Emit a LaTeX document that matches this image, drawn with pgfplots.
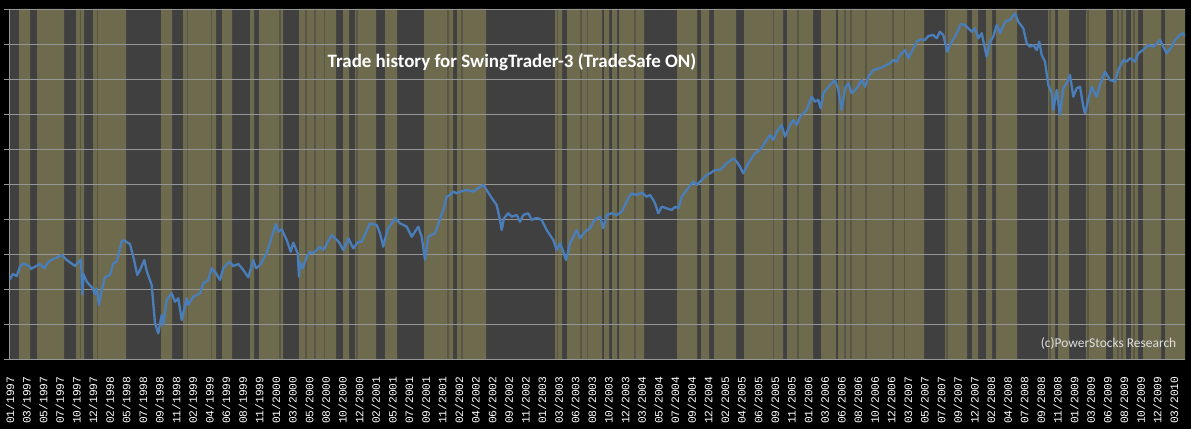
\documentclass[border=0pt]{standalone}
\usepackage{pgfplots}
\pgfplotsset{compat=1.18}
\usepackage{fontspec}
\setmainfont{Carlito}
\newfontfamily\monofont{Liberation Mono}
\definecolor{olivebg}{RGB}{110,106,78}
\definecolor{darkbg}{RGB}{64,64,64}
\definecolor{stripe}{RGB}{88,86,70}
\definecolor{gridc}{RGB}{150,150,150}
\definecolor{lineblue}{RGB}{74,126,187}
\pgfdeclarelayer{pagebg}
\pgfplotsset{
  layers/mylayers/.define layer set={pagebg,axis background,axis grid,axis ticks,axis lines,axis tick labels,pre main,main,axis descriptions,axis foreground}{/pgfplots/layers/standard},
}
\begin{document}
\begin{tikzpicture}
\begin{axis}[
  set layers=mylayers,
  at={(9.3bp,69bp)}, anchor=south west,
  scale only axis, width=1175.7bp, height=350.7bp,
  xmin=9.3, xmax=1185, ymin=0, ymax=350.7,
  axis background/.style={fill=darkbg},
  axis lines*=left,
  axis line style={-, draw=gridc, line width=1bp},
  ytick={0,35.07,70.14,105.21,140.28,175.35,210.42,245.49,280.56,315.63,350.7},
  yticklabels={},
  ymajorgrids=true,
  major grid style={draw=gridc, line width=1bp},
  tick align=outside,
  major tick length=5.5bp,
  ytick style={draw=gridc, line width=1bp},
  xtick style={draw=none},
  xtick={10,26.63,...,1175},
  xticklabels={01/1997,03/1997,05/1997,07/1997,10/1997,12/1997,02/1998,05/1998,07/1998,09/1998,11/1998,02/1999,04/1999,06/1999,08/1999,11/1999,01/2000,03/2000,05/2000,08/2000,10/2000,12/2000,02/2001,05/2001,07/2001,09/2001,11/2001,02/2002,04/2002,06/2002,09/2002,11/2002,01/2003,03/2003,06/2003,08/2003,10/2003,12/2003,03/2004,05/2004,07/2004,09/2004,12/2004,02/2005,04/2005,06/2005,09/2005,11/2005,01/2006,03/2006,06/2006,08/2006,10/2006,12/2006,03/2007,05/2007,07/2007,09/2007,12/2007,02/2008,04/2008,07/2008,09/2008,11/2008,01/2009,03/2009,06/2009,08/2009,10/2009,12/2009,03/2010},
  xticklabel style={yshift=-11bp, rotate=90, anchor=east, inner sep=0pt,
    font=\monofont\fontsize{11.3}{11.3}\selectfont, text=white},
]
% olive (in-market) bands: 351 = olive from this x, 0 = dark from this x
\addplot[const plot, fill=olivebg, draw=none, on layer=axis background] coordinates {
(9.3,0)(19,351)(30,0)(37,351)(64,0)(76,351)(84,0)(93,351)(126,0)(161,351)
(172,0)(183,351)(216,0)(222,351)(232,0)(250,351)(254,0)(259,351)(283,0)(299,351)
(336,0)(343,351)(349,0)(355,351)(376,0)(385,351)(397,0)(424,351)(453,0)(457,351)
(486,0)(555,351)(562,0)(567,351)(602,0)(604,351)(609,0)(612,351)(617,0)(619,351)
(644,0)(677,351)(697,0)(701,351)(709,0)(714,351)(736,0)(744,351)(783,0)(787,351)
(813,0)(821,351)(836,0)(838,351)(924,0)(945,351)(967,0)(972,351)(978,0)(986,351)
(992,0)(996,351)(1017,0)(1048,351)(1055,0)(1058,351)(1069,0)(1086,351)(1106,0)(1113,351)
(1126,0)(1131,351)(1138,0)(1143,351)(1161,0)(1165,351)(1185,351)} \closedcycle;
% thin darker stripes
\addplot[ycomb, draw=stripe, line width=1.6bp, no markers, on layer=axis background] coordinates {
(80.5,351)(97.5,351)(187.5,351)(211.5,351)(280,351)(306,351)(315,351)(324.5,351)(357,351)
(448,351)(462,351)(557.5,351)(581,351)(587.5,351)(635,351)(773.5,351)(798,351)(845,351)
(851,351)(866,351)(893,351)(904.5,351)(947,351)(1050,351)(1088,351)(1118,351)(1122,351)(1134,351)};
% equity curve (y read as pixel rows, stored top-down)
\addplot[draw=lineblue, line width=2.3bp, line join=round, no markers] table[x=x, y expr=360-\thisrow{py}] {
x py
10 279.3
12.7 274
16.7 276
20 266.7
23.3 263.3
30 266.7
31 269
35 266.7
40 264
44.3 268.3
48.3 261.7
55 258.3
61.7 255
66.7 260
75 266
81 259.3
82.3 294.3
83.3 274
86.7 281.7
92.7 288.3
95 294.3
96.7 288.3
99 305
101.7 290
105 277.3
110 275
113.3 263.3
116.7 261.7
121.7 241.7
123.3 240
130 244
133.3 256.7
137.3 275
140 270
144.3 260
146.7 271
151.7 285
155 323.3
158.3 333.3
161.7 315
163.3 325
166.7 300
171.7 293.3
175 301.7
178.3 298.3
181.7 320
186.7 298.3
188.3 305
193.3 296.7
200 293.3
203.3 283.3
208.3 280
211.7 268.3
215 271.7
220 280
223.3 268.3
229.3 261.7
233.3 266
238.3 264
243.3 270
248.3 277.3
253.3 260
256 268.3
260 265
266.7 253.3
271.7 236.7
276 224
278.3 231.7
281.7 229.3
286.7 240
290.7 251.7
293.3 242.7
297.7 253.3
299 276.7
300 262
302.7 268.3
306.7 256.7
310 251.7
313.3 253.3
320 246.7
323.3 250
331.7 235
336.7 240
339.3 242.7
343.3 250
348.3 238.3
353.3 248.3
358.3 241.7
361.7 241.7
370 223.3
376.7 225
380 233.3
383.3 246.7
387.3 230
395 218.3
400 223.3
406.7 226.7
411.7 236.7
418.3 226.7
421.7 236.7
425 260
428.3 236.7
435 233.3
443.3 210
446.7 196.7
450 195
453.3 191.7
456.7 193.3
460 191.7
466.7 190
473.3 191.7
480 186.7
483.3 185
486.7 190
491.7 198
496.7 205
500 220
501.7 230
504 218.3
508.3 213.3
511.7 216.7
516.7 215
520 221.7
523.3 215
528.3 213.3
531.7 220
535 218.3
538.3 218.3
541.7 220
543.3 223.3
546.7 230
553.3 240
556.7 250
560 243.3
563.3 251.7
566 260
570 243.3
576.7 230
580 238.3
585 231.7
590 228.3
593.3 221.7
596.7 218.3
600 216.7
603.3 228.3
606.7 215
611.7 213.3
616.7 215
621.7 211.7
625 205
628.3 198
631.7 193.3
636.7 195
641.7 192.7
646.7 196.7
650 195
653.3 200
655 203.3
658.3 213.3
661.7 206.7
666.7 208.3
671.7 210
675 206.7
678.3 208.3
680 203.3
681.7 196.7
686.7 190
693.3 181.7
696.7 185
700 181.7
706.7 175
710 173.3
715 170
720 170
726.7 163.3
733.3 158.3
736.7 161.7
740 166.7
743.3 173.3
748.3 163.3
755 153.3
760 150
766.7 140
770 135
773.3 140
776.7 131.7
781.7 125
785 136.7
790 125
793.3 120
796.7 125
800 116.7
806.7 110
811.7 96.7
815 101.7
818.3 100
820.7 108.3
823.3 93.3
830 85
835 80
838.3 90
841.7 110
845 88.3
848.3 83.3
851.7 93.3
856.7 88.3
861.7 80
865 86.7
868.3 76.7
873.3 70
880 68.3
886.7 65
890 63.3
893.3 60
896.7 61.7
900 55
905 50
908.3 58.3
911.7 51.7
916.7 41.7
920 39.3
925 40
928.3 36
933.3 35
936.7 38.3
940 31.7
943.3 35
947.3 51.7
950 45
956.7 33.3
960.7 24
965 25
968.3 28.3
971.7 31.7
975 28.3
978.3 38.3
981.7 33.3
986.7 56.7
990 41.7
993.3 36.7
996.7 25
1000 33.3
1005 21.7
1010 20
1015 13.3
1018.3 21.7
1023.3 28.3
1026.7 43.3
1030 46.7
1033.3 45
1036.7 50
1039.3 41.7
1041.7 55
1045 61.7
1048.3 85
1051.7 93.3
1053.3 110
1056.7 90
1060 115
1063.3 88.3
1066.7 83.3
1070 75
1073.3 96.7
1076.7 88.3
1080 86.7
1083.3 106.7
1085 113.3
1088.3 100
1091.7 86.7
1096.7 96.7
1100 85
1105 71.7
1110 80
1115 81.7
1118.3 70
1123.3 60
1126.7 61.7
1130 58.3
1135 61.7
1138.3 53.3
1143.3 50
1148.3 45
1153.3 46.7
1160 40
1163.3 46.7
1166.7 53.3
1171.7 46.7
1175 40
1180 35
1183.3 33.3
1185 36.7
};
\end{axis}
\begin{pgfonlayer}{pagebg}
\fill[black] (0,0) rectangle (1191bp,429bp);
\end{pgfonlayer}
\node[font=\bfseries\fontsize{19}{19}\selectfont, text=white] at (512bp,367.3bp) {Trade history for SwingTrader-3 (TradeSafe ON)};
\node[font=\fontsize{13.5}{13.5}\selectfont, text=black!12] at (1108.5bp,85bp) {(c)PowerStocks Research};
\pgfresetboundingbox
\useasboundingbox (0,0) rectangle (1191bp,429bp);
\end{tikzpicture}
\end{document}
